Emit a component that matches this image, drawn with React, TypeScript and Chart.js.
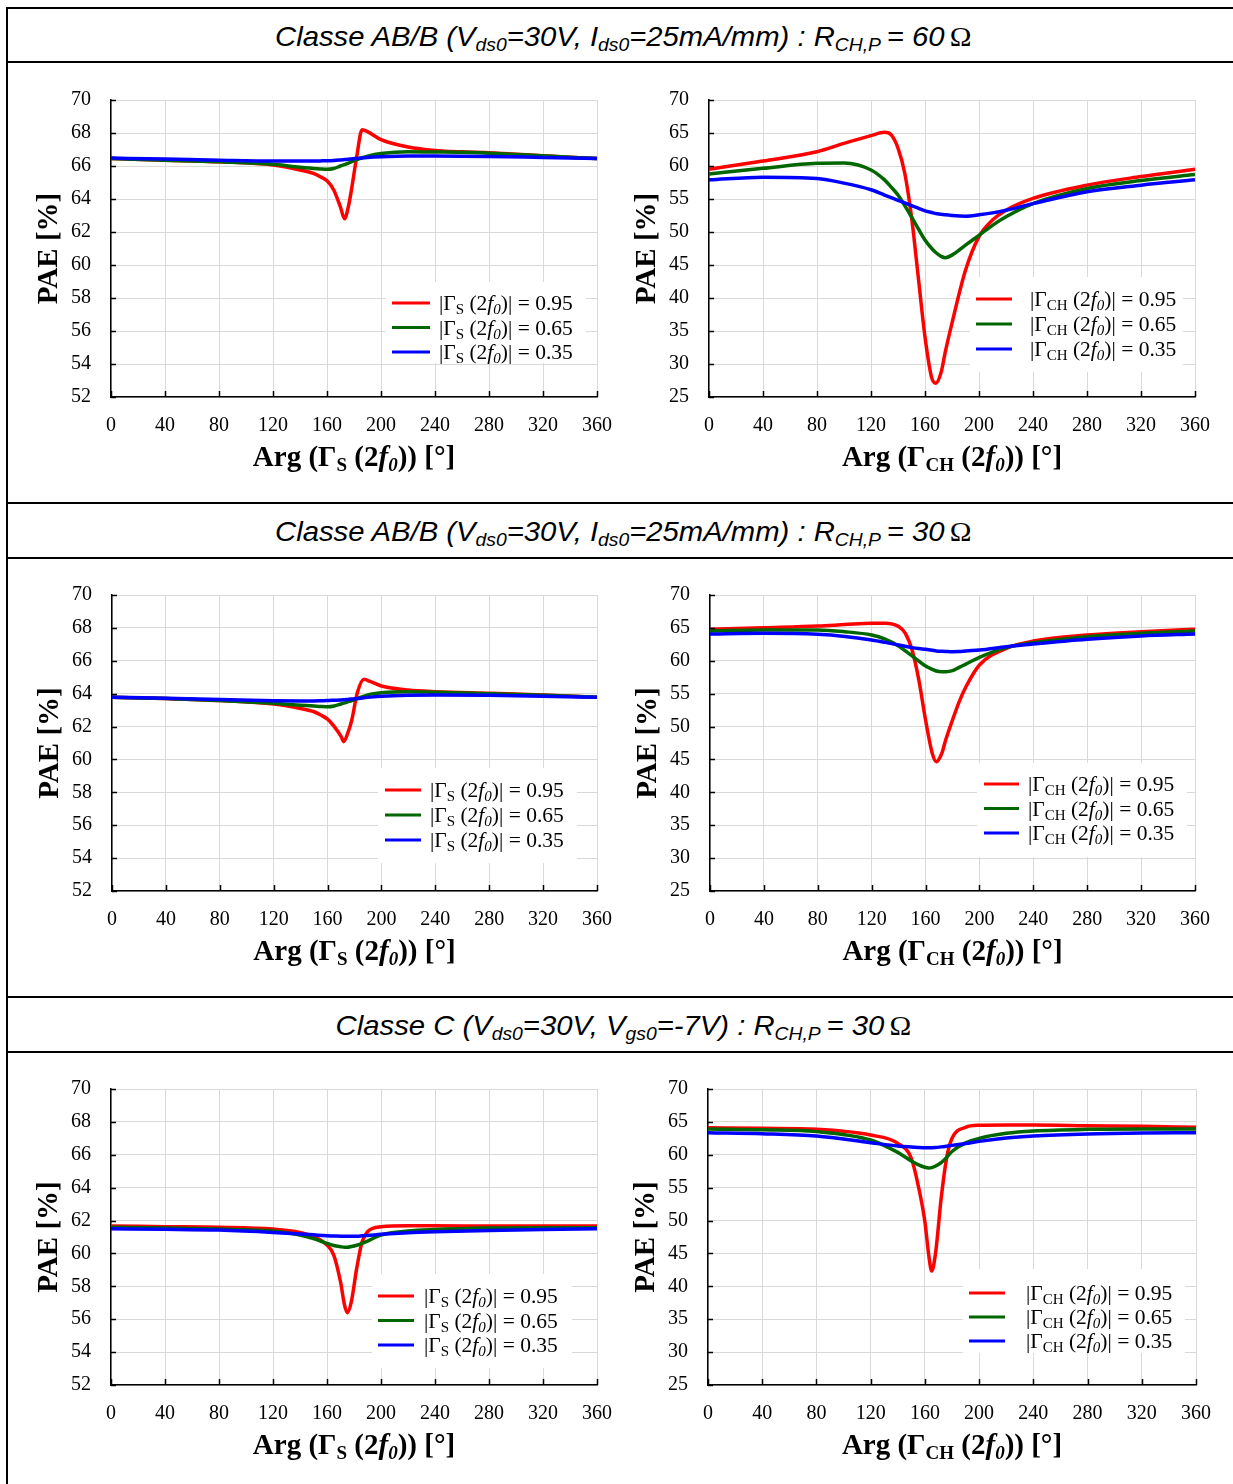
import React, { useEffect, useRef } from "react";
import { Chart, registerables } from "chart.js";
Chart.register(...registerables);

// ---------- DATA ----------
const magnitudes = ["0.95", "0.65", "0.35"];
const seriesColors = ["#ff0000", "#006600", "#0000ff"];

// Row 1 left : Arg(Γ_S), Classe AB/B, R = 60 Ω
const tlX = [0, 40, 80, 120, 140, 150, 155, 160, 165, 170, 173, 176, 178, 182, 186, 190, 200, 220, 240, 280, 320, 360];
const tlRed = [66.45, 66.35, 66.25, 66.06, 65.76, 65.55, 65.35, 65.1, 64.55, 63.5, 62.8, 63.6, 64.5, 66.56, 68.2, 68.08, 67.6, 67.15, 66.94, 66.8, 66.62, 66.45];
const tlGreen = [66.45, 66.35, 66.25, 66.1, 65.92, 65.85, 65.82, 65.8, 65.85, 66.0, 66.08, 66.18, 66.25, 66.38, 66.5, 66.6, 66.76, 66.87, 66.85, 66.78, 66.62, 66.45];
const tlBlue = [66.48, 66.42, 66.35, 66.3, 66.3, 66.3, 66.31, 66.32, 66.34, 66.37, 66.39, 66.41, 66.43, 66.46, 66.49, 66.52, 66.56, 66.6, 66.6, 66.58, 66.52, 66.46];

// Row 1 right : Arg(Γ_CH), Classe AB/B, R = 60 Ω
const trX = [0, 40, 80, 100, 120, 130, 135, 140, 145, 150, 155, 160, 165, 168, 172, 175, 180, 190, 200, 210, 220, 240, 280, 320, 360];
const trRed = [59.5, 60.76, 62.17, 63.43, 64.6, 65.1, 64.7, 62.7, 58.9, 52.3, 43.2, 34.1, 27.9, 27.1, 28.8, 31.8, 36.2, 44.2, 49.3, 51.8, 53.3, 55.1, 57.1, 58.4, 59.5];
const trGreen = [58.8, 59.65, 60.4, 60.45, 59.4, 57.9, 56.8, 55.6, 54.0, 52.3, 50.5, 48.8, 47.5, 46.9, 46.3, 46.1, 46.5, 48.0, 49.5, 51.0, 52.3, 54.3, 56.6, 57.8, 58.7];
const trBlue = [57.9, 58.3, 58.1, 57.4, 56.4, 55.6, 55.2, 54.8, 54.4, 54.0, 53.6, 53.2, 52.95, 52.8, 52.7, 52.6, 52.5, 52.4, 52.6, 52.9, 53.3, 54.3, 56.1, 57.1, 57.9];

// Row 2 left : Arg(Γ_S), Classe AB/B, R = 30 Ω
const mlX = [0, 40, 80, 120, 140, 150, 155, 160, 165, 170, 172, 175, 178, 182, 187, 192, 200, 220, 240, 280, 320, 360];
const mlRed = [63.78, 63.7, 63.58, 63.37, 63.1, 62.9, 62.7, 62.45, 62.0, 61.4, 61.08, 61.6, 62.4, 64.02, 64.87, 64.73, 64.47, 64.22, 64.12, 64.02, 63.92, 63.78];
const mlGreen = [63.78, 63.7, 63.58, 63.41, 63.3, 63.25, 63.22, 63.2, 63.25, 63.37, 63.42, 63.5, 63.58, 63.7, 63.85, 63.97, 64.06, 64.12, 64.08, 64.0, 63.9, 63.78];
const mlBlue = [63.78, 63.72, 63.65, 63.57, 63.56, 63.56, 63.57, 63.58, 63.6, 63.62, 63.63, 63.65, 63.67, 63.7, 63.75, 63.79, 63.84, 63.9, 63.92, 63.9, 63.85, 63.78];

// Row 2 right : Arg(Γ_CH), Classe AB/B, R = 30 Ω
const mrX = [0, 40, 80, 100, 120, 130, 140, 145, 150, 155, 160, 165, 168, 172, 175, 180, 185, 190, 200, 220, 240, 280, 320, 360];
const mrRed = [64.78, 65.03, 65.29, 65.5, 65.7, 65.7, 65.2, 64.17, 61.64, 57.1, 51.0, 45.9, 44.66, 45.9, 48.0, 51.0, 53.8, 56.06, 59.36, 61.9, 63.0, 63.92, 64.42, 64.78];
const mrGreen = [64.53, 64.68, 64.68, 64.42, 63.92, 63.3, 62.25, 61.5, 60.73, 59.95, 59.2, 58.7, 58.45, 58.34, 58.34, 58.5, 59.0, 59.5, 60.53, 62.0, 62.75, 63.66, 64.17, 64.53];
const mrBlue = [64.07, 64.17, 64.02, 63.7, 63.16, 62.8, 62.4, 62.2, 62.0, 61.85, 61.74, 61.6, 61.5, 61.45, 61.42, 61.38, 61.4, 61.5, 61.64, 62.14, 62.55, 63.26, 63.77, 64.07];

// Row 3 left : Arg(Γ_S), Classe C, R = 30 Ω
const blX = [0, 40, 80, 120, 140, 150, 160, 165, 170, 173, 175, 178, 182, 186, 190, 200, 220, 240, 280, 320, 360];
const blRed = [61.67, 61.63, 61.59, 61.48, 61.28, 61.02, 60.51, 59.9, 58.28, 56.86, 56.4, 57.06, 59.09, 60.71, 61.32, 61.62, 61.68, 61.68, 61.67, 61.67, 61.67];
const blGreen = [61.59, 61.55, 61.48, 61.36, 61.12, 60.9, 60.61, 60.48, 60.41, 60.38, 60.38, 60.42, 60.5, 60.61, 60.75, 61.12, 61.36, 61.45, 61.54, 61.56, 61.56];
const blBlue = [61.5, 61.47, 61.42, 61.28, 61.18, 61.13, 61.08, 61.06, 61.05, 61.04, 61.04, 61.04, 61.05, 61.07, 61.09, 61.16, 61.26, 61.32, 61.4, 61.46, 61.5];

// Row 3 right : Arg(Γ_CH), Classe C, R = 30 Ω
const brX = [0, 40, 80, 120, 140, 150, 155, 160, 163, 165, 168, 172, 176, 180, 190, 200, 220, 240, 280, 320, 360];
const brRed = [64.12, 64.02, 63.87, 63.0, 61.74, 59.46, 55.4, 49.83, 44.5, 42.33, 45.26, 53.37, 59.46, 62.5, 64.17, 64.48, 64.53, 64.53, 64.42, 64.32, 64.17];
const brGreen = [63.92, 63.8, 63.52, 62.25, 60.37, 59.05, 58.5, 58.1, 58.0, 58.05, 58.3, 58.8, 59.6, 60.5, 61.8, 62.5, 63.26, 63.62, 63.87, 63.92, 63.92];
const brBlue = [63.36, 63.2, 62.85, 61.84, 61.33, 61.18, 61.12, 61.08, 61.08, 61.08, 61.1, 61.2, 61.3, 61.43, 61.7, 62.04, 62.55, 62.85, 63.16, 63.31, 63.36];

// ---------- LAYOUT / STYLE ----------
const SERIF = '"Liberation Serif", "Times New Roman", serif';
const SANS = '"Liberation Sans", Arial, sans-serif';
const Y_AXIS_W = 100;
const PAD_TOP = 34;
const PAD_RIGHT = 40;
const X_AXIS_H = 95;

type LegendCfg = { lx: number; ly: number; len: number; gap: number; step: number; box: [number, number, number, number] };
type PanelCfg = {
  xs: number[];
  series: number[][];
  yMin: number;
  yMax: number;
  yStep: number;
  sub: string;
  plot: { left: number; top: number; right: number; bottom: number };
  legend: LegendCfg;
};

const panels: PanelCfg[] = [
  { xs: tlX, series: [tlRed, tlGreen, tlBlue], yMin: 52, yMax: 70, yStep: 2, sub: "S",
    plot: { left: 111, top: 100, right: 597, bottom: 397 },
    legend: { lx: 281, ly: 203, len: 38, gap: 9, step: 24.5, box: [275, 182, 475, 263] } },
  { xs: trX, series: [trRed, trGreen, trBlue], yMin: 25, yMax: 70, yStep: 5, sub: "CH",
    plot: { left: 709, top: 100, right: 1195, bottom: 397 },
    legend: { lx: 267, ly: 199, len: 36, gap: 18, step: 25, box: [261, 177, 474, 272] } },
  { xs: mlX, series: [mlRed, mlGreen, mlBlue], yMin: 52, yMax: 70, yStep: 2, sub: "S",
    plot: { left: 112, top: 595, right: 597, bottom: 891 },
    legend: { lx: 273, ly: 195, len: 36, gap: 9, step: 25, box: [266, 173, 465, 268] } },
  { xs: mrX, series: [mrRed, mrGreen, mrBlue], yMin: 25, yMax: 70, yStep: 5, sub: "CH",
    plot: { left: 710, top: 595, right: 1195, bottom: 891 },
    legend: { lx: 274, ly: 189, len: 35, gap: 9, step: 24.5, box: [267, 168, 477, 262] } },
  { xs: blX, series: [blRed, blGreen, blBlue], yMin: 52, yMax: 70, yStep: 2, sub: "S",
    plot: { left: 111, top: 1089, right: 597, bottom: 1385 },
    legend: { lx: 267, ly: 207, len: 36, gap: 10, step: 24.5, box: [261, 185, 461, 279] } },
  { xs: brX, series: [brRed, brGreen, brBlue], yMin: 25, yMax: 70, yStep: 5, sub: "CH",
    plot: { left: 708, top: 1089, right: 1196, bottom: 1385 },
    legend: { lx: 261, ly: 204, len: 36, gap: 21, step: 24, box: [255, 180, 477, 264] } },
];

type Seg = { t: string; font: string; dy?: number };
function drawRich(ctx: CanvasRenderingContext2D, segs: Seg[], x: number, y: number, align: "left" | "center") {
  const widths = segs.map((s) => {
    ctx.font = s.font;
    return ctx.measureText(s.t).width;
  });
  const total = widths.reduce((a, b) => a + b, 0);
  let cx = align === "center" ? x - total / 2 : x;
  ctx.textAlign = "left";
  ctx.textBaseline = "alphabetic";
  segs.forEach((s, i) => {
    ctx.font = s.font;
    ctx.fillText(s.t, cx, y + (s.dy || 0));
    cx += widths[i];
  });
}

function makeDecor(cfg: PanelCfg) {
  return {
    id: "decor",
    afterDatasetsDraw(chart: any) {
      const ctx: CanvasRenderingContext2D = chart.ctx;
      const a = chart.chartArea;
      const xs = chart.scales.x;
      const ys = chart.scales.y;
      ctx.save();
      // inside tick marks
      ctx.strokeStyle = "#000";
      ctx.lineWidth = 1.5;
      ctx.beginPath();
      ys.ticks.forEach((t: any) => {
        const py = Math.round(ys.getPixelForValue(t.value)) + 0.5;
        ctx.moveTo(a.left, py);
        ctx.lineTo(a.left + 5, py);
      });
      xs.ticks.forEach((t: any) => {
        const px = Math.round(xs.getPixelForValue(t.value)) + 0.5;
        ctx.moveTo(px, a.bottom);
        ctx.lineTo(px, a.bottom - 6);
      });
      ctx.stroke();

      // legend
      const L = cfg.legend;
      ctx.fillStyle = "#fff";
      ctx.fillRect(a.left + L.box[0], a.top + L.box[1], L.box[2] - L.box[0], L.box[3] - L.box[1]);
      const fs = 21.5;
      const fsub = 15;
      magnitudes.forEach((m, i) => {
        const y = a.top + L.ly + i * L.step;
        ctx.strokeStyle = seriesColors[i];
        ctx.lineWidth = 3;
        ctx.beginPath();
        ctx.moveTo(a.left + L.lx, y);
        ctx.lineTo(a.left + L.lx + L.len, y);
        ctx.stroke();
        ctx.fillStyle = "#000";
        drawRich(
          ctx,
          [
            { t: "|Γ", font: `${fs}px ${SERIF}` },
            { t: cfg.sub, font: `${fsub}px ${SERIF}`, dy: 4 },
            { t: " (2", font: `${fs}px ${SERIF}` },
            { t: "f", font: `italic ${fs}px ${SERIF}` },
            { t: "0", font: `italic ${fsub}px ${SERIF}`, dy: 4 },
            { t: ")| = " + m, font: `${fs}px ${SERIF}` },
          ],
          a.left + L.lx + L.len + L.gap,
          y + 7,
          "left"
        );
      });

      // x-axis title
      ctx.fillStyle = "#000";
      const bx = `bold 29px ${SERIF}`;
      const bsub = `bold 19px ${SERIF}`;
      drawRich(
        ctx,
        [
          { t: "Arg (Γ", font: bx },
          { t: cfg.sub, font: bsub, dy: 5 },
          { t: " (2", font: bx },
          { t: "f", font: `italic ${bx}` },
          { t: "0", font: `italic ${bsub}`, dy: 5 },
          { t: ")) [°]", font: bx },
        ],
        (a.left + a.right) / 2,
        a.bottom + 69,
        "center"
      );

      // y-axis title
      ctx.translate(a.left - 61, (a.top + a.bottom) / 2);
      ctx.rotate(-Math.PI / 2);
      ctx.font = bx;
      ctx.textAlign = "center";
      ctx.textBaseline = "middle";
      ctx.fillText("PAE [%]", 0, 0);
      ctx.restore();
    },
  };
}

function Panel({ cfg }: { cfg: PanelCfg }) {
  const ref = useRef<HTMLCanvasElement>(null);
  const p = cfg.plot;
  const w = p.right - p.left + Y_AXIS_W + PAD_RIGHT;
  const h = p.bottom - p.top + PAD_TOP + X_AXIS_H;
  useEffect(() => {
    if (!ref.current) return;
    const chart = new Chart(ref.current, {
      type: "line",
      data: {
        datasets: cfg.series.map((ys, i) => ({
          label: `|Γ${cfg.sub} (2f0)| = ${magnitudes[i]}`,
          data: cfg.xs.map((x, j) => ({ x, y: ys[j] })),
          borderColor: seriesColors[i],
          borderWidth: 3.5,
          pointRadius: 0,
          fill: false,
          cubicInterpolationMode: "monotone" as const,
          clip: false as any,
          order: 3 - i,
        })),
      },
      options: {
        responsive: false,
        animation: false,
        events: [],
        layout: { padding: { left: 0, top: PAD_TOP, right: PAD_RIGHT, bottom: 0 } },
        plugins: { legend: { display: false }, tooltip: { enabled: false }, title: { display: false } },
        scales: {
          x: {
            type: "linear",
            min: 0,
            max: 360,
            ticks: { stepSize: 40, color: "#000", font: { family: SERIF, size: 20 }, padding: 17, maxRotation: 0, autoSkip: false },
            grid: { color: "#d9d9d9", lineWidth: 1, drawTicks: false },
            border: { color: "#000", width: 1.5 },
            afterFit: (s: any) => {
              s.height = X_AXIS_H;
            },
          },
          y: {
            type: "linear",
            min: cfg.yMin,
            max: cfg.yMax,
            ticks: { stepSize: cfg.yStep, color: "#000", font: { family: SERIF, size: 20 }, padding: 20 },
            grid: { color: "#d9d9d9", lineWidth: 1, drawTicks: false },
            border: { color: "#000", width: 1.5 },
            afterFit: (s: any) => {
              s.width = Y_AXIS_W;
            },
          },
        },
      } as any,
      plugins: [makeDecor(cfg)],
    });
    return () => chart.destroy();
  }, [cfg]);
  return (
    <canvas
      ref={ref}
      width={w}
      height={h}
      style={{ position: "absolute", left: p.left - Y_AXIS_W, top: p.top - PAD_TOP, width: w, height: h }}
    />
  );
}

const subStyle: React.CSSProperties = { fontSize: "0.66em", verticalAlign: "-0.28em", lineHeight: 0 };

function Header({ top, children }: { top: number; children: React.ReactNode }) {
  return (
    <div
      style={{
        position: "absolute",
        left: 8,
        width: 1231,
        top,
        height: 53,
        display: "flex",
        alignItems: "center",
        justifyContent: "center",
        font: `italic 28px ${SANS}`,
        color: "#000",
        whiteSpace: "nowrap",
      }}
    >
      <span style={{ display: "inline-block", transform: "scaleX(1.045)" }}>{children}</span>
    </div>
  );
}

const Omega = () => <span style={{ fontStyle: "normal", fontFamily: SERIF, marginLeft: 5 }}>Ω</span>;

export default function App() {
  const line = (style: React.CSSProperties) => <div style={{ position: "absolute", background: "#000", ...style }} />;
  return (
    <div style={{ position: "absolute", left: 0, top: 0, width: 1233, height: 1484, background: "#fff", overflow: "hidden" }}>
      {line({ left: 6, top: 7, width: 2, height: 1477 })}
      {line({ left: 6, top: 7, width: 1227, height: 2 })}
      {line({ left: 6, top: 61, width: 1227, height: 2 })}
      {line({ left: 6, top: 502, width: 1227, height: 2 })}
      {line({ left: 6, top: 557, width: 1227, height: 2 })}
      {line({ left: 6, top: 996, width: 1227, height: 2 })}
      {line({ left: 6, top: 1051, width: 1227, height: 2 })}
      <Header top={10}>
        Classe AB/B (V<sub style={subStyle}>ds0</sub>=30V, I<sub style={subStyle}>ds0</sub>=25mA/mm) : R<sub style={subStyle}>CH,P</sub>&thinsp;= 60<Omega />
      </Header>
      <Header top={505}>
        Classe AB/B (V<sub style={subStyle}>ds0</sub>=30V, I<sub style={subStyle}>ds0</sub>=25mA/mm) : R<sub style={subStyle}>CH,P</sub>&thinsp;= 30<Omega />
      </Header>
      <Header top={999}>
        Classe C (V<sub style={subStyle}>ds0</sub>=30V, V<sub style={subStyle}>gs0</sub>=-7V) : R<sub style={subStyle}>CH,P</sub>&thinsp;= 30<Omega />
      </Header>
      {panels.map((cfg, i) => (
        <Panel key={i} cfg={cfg} />
      ))}
    </div>
  );
}
